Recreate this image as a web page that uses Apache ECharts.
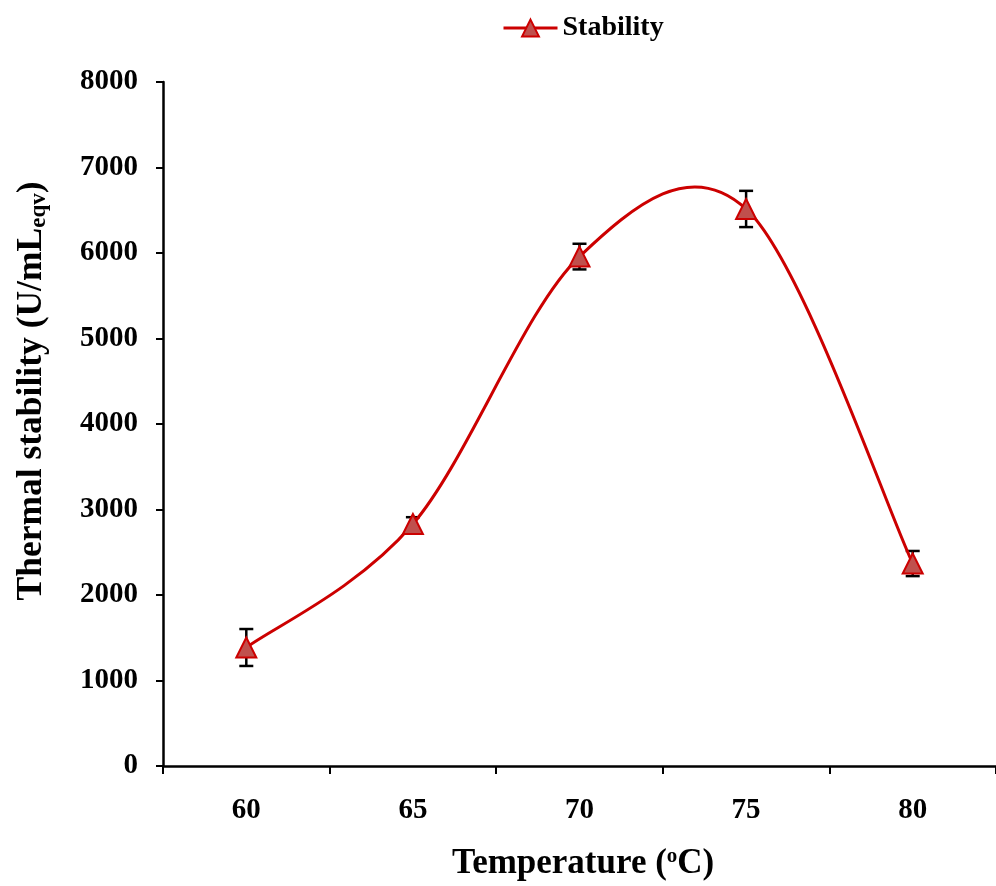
<!DOCTYPE html>
<html><head><meta charset="utf-8">
<script src="https://cdn.jsdelivr.net/npm/echarts@6/dist/echarts.min.js"></script>
<style>html,body{margin:0;padding:0;background:#fff}#c{width:996px;height:886px}</style>
</head><body><div id="c"></div>
<script>
var temperatures = ['60', '65', '70', '75', '80'];
var stability = [1386, 2830, 5958, 6515, 2368];
var errors = [216, 80, 150, 212, 147];
var yTicks = [0, 1000, 2000, 3000, 4000, 5000, 6000, 7000, 8000];

var font = '"Liberation Serif", "Times New Roman", serif';
var chart = echarts.init(document.getElementById('c'));
var errData = temperatures.map(function (t, i) { return [i, stability[i] - errors[i], stability[i] + errors[i]]; });
var curveData = temperatures.map(function (t, i) { return [i, stability[i]]; });

chart.setOption({
  animation: false,
  backgroundColor: '#fff',
  grid: { left: 163, right: 0, top: 82, bottom: 120 },
  legend: {
    top: 9, left: 497, padding: 5,
    itemWidth: 54, itemHeight: 21, itemGap: 2,
    textStyle: { fontFamily: font, fontWeight: 'bold', fontSize: 28, color: '#000' },
    data: [{ name: 'Stability' }],
    lineStyle: { color: '#cc0000', width: 3, opacity: 1 }
  },
  xAxis: {
    type: 'category', data: temperatures, boundaryGap: true,
    axisLine: { lineStyle: { color: '#000', width: 2.5 } },
    axisTick: { show: true, length: 8, lineStyle: { color: '#000', width: 2 } },
    axisLabel: { margin: 30, fontFamily: font, fontWeight: 'bold', fontSize: 29, color: '#000' },
    splitLine: { show: false }
  },
  yAxis: {
    type: 'value', min: 0, max: 8000, interval: 1000,
    axisLine: { show: true, lineStyle: { color: '#000', width: 2.5 } },
    axisTick: { show: true, length: 7, lineStyle: { color: '#000', width: 2 } },
    axisLabel: { margin: 25, fontFamily: font, fontWeight: 'bold', fontSize: 29, color: '#000',
      formatter: function (v) { return yTicks.indexOf(v) >= 0 ? String(v) : ''; } },
    splitLine: { show: false }
  },
  graphic: [
    {
      type: 'text', left: 452, top: 846,
      style: {
        text: '{a|Temperature (}{s|o}{a|C)}',
        rich: {
          a: { fontFamily: font, fontWeight: 'bold', fontSize: 35, fill: '#000' },
          s: { fontFamily: font, fontWeight: 'bold', fontSize: 21, fill: '#000', verticalAlign: 'top', padding: [0, 0, 14, 0] }
        }
      }
    },
    {
      type: 'text', x: 32, y: 391, rotation: Math.PI / 2,
      style: {
        text: '{a|Thermal stability (U/mL}{s|eqv}{a|)}',
        align: 'center', verticalAlign: 'middle',
        rich: {
          a: { fontFamily: font, fontWeight: 'bold', fontSize: 35.5, fill: '#000' },
          s: { fontFamily: font, fontWeight: 'bold', fontSize: 23, fill: '#000', padding: [14, 0, 0, 0] }
        }
      }
    }
  ],
  series: [
    {
      type: 'custom', name: 'err', z: 1,
      data: errData,
      renderItem: function (params, api) {
        var lo = api.coord([api.value(0), api.value(1)]);
        var hi = api.coord([api.value(0), api.value(2)]);
        var w = 7;
        var st = { stroke: '#000', lineWidth: 2.5 };
        return { type: 'group', children: [
          { type: 'line', shape: { x1: lo[0], y1: lo[1], x2: hi[0], y2: hi[1] }, style: st },
          { type: 'line', shape: { x1: lo[0] - w, y1: lo[1], x2: lo[0] + w, y2: lo[1] }, style: st },
          { type: 'line', shape: { x1: hi[0] - w, y1: hi[1], x2: hi[0] + w, y2: hi[1] }, style: st }
        ] };
      }
    },
    {
      type: 'custom', name: 'curve', z: 2,
      data: curveData,
      renderItem: function (params, api) {
        if (params.dataIndex !== 0) return null;
        var pts = curveData.map(function (d) { return api.coord(d); });
        var path = 'M' + pts[0][0] + ' ' + pts[0][1];
        for (var i = 0; i < pts.length - 1; i++) {
          var p0 = pts[Math.max(i - 1, 0)], p1 = pts[i], p2 = pts[i + 1], p3 = pts[Math.min(i + 2, pts.length - 1)];
          var c1 = [p1[0] + (p2[0] - p0[0]) / 6, p1[1] + (p2[1] - p0[1]) / 6];
          var c2 = [p2[0] - (p3[0] - p1[0]) / 6, p2[1] - (p3[1] - p1[1]) / 6];
          path += ' C' + c1[0] + ' ' + c1[1] + ' ' + c2[0] + ' ' + c2[1] + ' ' + p2[0] + ' ' + p2[1];
        }
        return { type: 'path', shape: { pathData: path }, style: { fill: null, stroke: '#cc0000', lineWidth: 3 } };
      }
    },
    {
      type: 'line', name: 'Stability', z: 3,
      data: stability,
      symbol: 'triangle', symbolSize: [20, 20],
      lineStyle: { color: '#cc0000', width: 3, opacity: 0 },
      itemStyle: { color: '#c0504d', borderColor: '#cc0000', borderWidth: 2 }
    }
  ]
});
</script></body></html>
